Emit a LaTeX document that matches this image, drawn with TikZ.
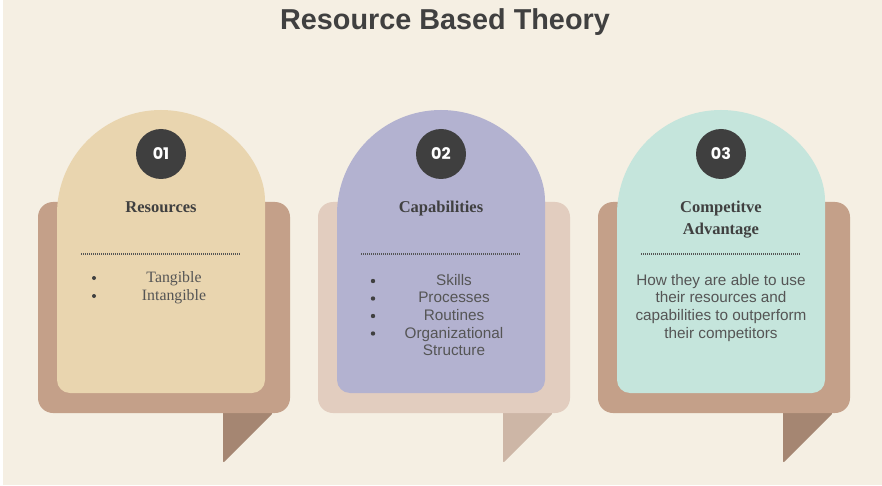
\documentclass[tikz,border=0pt]{standalone}
\usepackage{fontspec}
\setmainfont{Liberation Serif}
\newfontfamily\sansbody{Liberation Sans}
\newfontfamily\numfont{Poppins}

\definecolor{pagebg}{HTML}{F5EFE3}
\definecolor{backA}{HTML}{C4A089}
\definecolor{tailA}{HTML}{A58672}
\definecolor{backB}{HTML}{E2CDBF}
\definecolor{tailB}{HTML}{CDB6A6}
\definecolor{frontA}{HTML}{E9D5AF}
\definecolor{frontB}{HTML}{B3B2D0}
\definecolor{frontC}{HTML}{C5E5DC}
\definecolor{disc}{HTML}{3F3F3F}
\definecolor{ink}{HTML}{404040}
\definecolor{bodyink}{HTML}{555555}

\begin{document}
\begin{tikzpicture}[x=1pt,y=-1pt,
  titletext/.style={anchor=base, inner sep=0pt, text=ink,
    font=\sansbody\bfseries\fontsize{28.8}{32}\selectfont},
  numdisc/.style={circle, fill=disc, minimum size=50pt, inner sep=0pt, text=white,
    font=\numfont\bfseries\fontsize{16}{18}\selectfont},
  heading/.style={anchor=base, inner sep=0pt, text=ink,
    font=\bfseries\fontsize{16.5}{22}\selectfont},
  serifitem/.style={anchor=base, inner sep=0pt, text=bodyink,
    font=\fontsize{15.8}{18}\selectfont},
  sansitem/.style={anchor=base, inner sep=0pt, text=bodyink,
    font=\sansbody\fontsize{15.3}{18}\selectfont},
  dotline/.style={draw=bodyink, line width=1.2pt, dash pattern=on 1pt off 1pt},
  dot/.style={fill=ink}
]
\useasboundingbox (0,0) rectangle (882,486);
\fill[white] (0,0) rectangle (882,486);
\fill[pagebg] (3,0) rectangle (882,485);

% title
\node[titletext] (title) at (445,30) {Resource Based Theory};

% the three speech-bubble cards
\foreach \dx/\bk/\tl/\fr/\i in {0/backA/tailA/frontA/1, 280/backB/tailB/frontB/2, 560/backA/tailA/frontC/3} {
  \fill[\tl, rounded corners=2pt] (223+\dx,405) -- (273+\dx,405) -- (273+\dx,413) -- (223+\dx,463) -- cycle;
  \fill[\bk, rounded corners=15pt] (38+\dx,202) rectangle (290+\dx,413);
  \fill[\fr] (265+\dx,214) arc[start angle=0, end angle=180, radius=104pt]
     [rounded corners=13pt] -- (57+\dx,393) -- (265+\dx,393) -- cycle;
  \node[numdisc] (num\i) at (161+\dx,154) {0\i};
  \draw[dotline] (81+\dx,254) -- (241+\dx,254);
}

% card 1: resources
\node[heading] (head1) at (161,212.5) {Resources};
\fill[dot] (94,278) circle (2pt);
\fill[dot] (94,296) circle (2pt);
\node[serifitem] (res1) at (174,282) {Tangible};
\node[serifitem] (res2) at (174,300) {Intangible};

% card 2: capabilities
\node[heading] (head2) at (441,212.5) {Capabilities};
\foreach \y in {281,298.5,316,333.5} \fill[dot] (373,\y) circle (2.2pt);
\node[sansitem] (cap1) at (454,285) {Skills};
\node[sansitem] (cap2) at (454,302.7) {Processes};
\node[sansitem] (cap3) at (454,320.4) {Routines};
\node[sansitem] (cap4) at (454,338.1) {Organizational};
\node[sansitem] (cap5) at (454,355.8) {Structure};

% card 3: competitive advantage
\node[heading] (head3a) at (721,212.5) {Competitve};
\node[heading] (head3b) at (721,234.5) {Advantage};
\node[sansitem] (adv1) at (721,285) {How they are able to use};
\node[sansitem] (adv2) at (721,302.7) {their resources and};
\node[sansitem] (adv3) at (721,320.4) {capabilities to outperform};
\node[sansitem] (adv4) at (721,338.1) {their competitors};
\end{tikzpicture}
\end{document}
